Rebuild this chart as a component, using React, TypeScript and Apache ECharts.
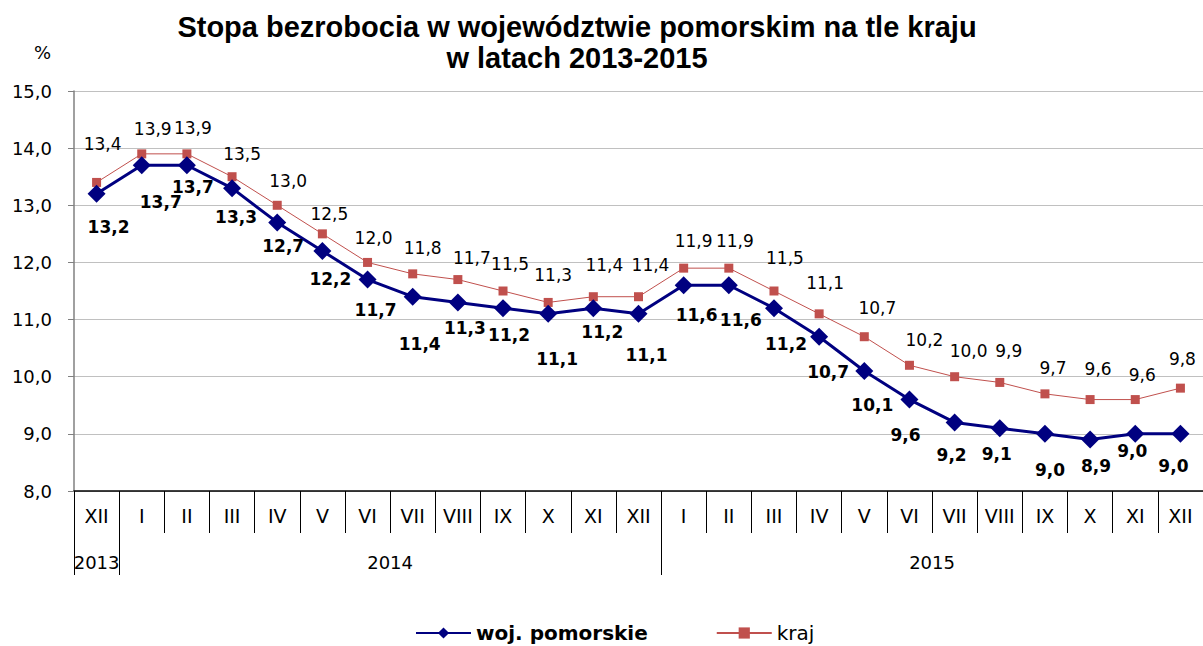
import React, { useEffect, useRef } from "react";
import * as echarts from "echarts";

const months = ["XII", "I", "II", "III", "IV", "V", "VI", "VII", "VIII", "IX", "X", "XI", "XII", "I", "II", "III", "IV", "V", "VI", "VII", "VIII", "IX", "X", "XI", "XII"];
const years = ["2013", "2014", "2015"];
const monthsPerYear = [1, 12, 12];
const pomorskie = [13.2, 13.7, 13.7, 13.3, 12.7, 12.2, 11.7, 11.4, 11.3, 11.2, 11.1, 11.2, 11.1, 11.6, 11.6, 11.2, 10.7, 10.1, 9.6, 9.2, 9.1, 9.0, 8.9, 9.0, 9.0];
const kraj = [13.4, 13.9, 13.9, 13.5, 13.0, 12.5, 12.0, 11.8, 11.7, 11.5, 11.3, 11.4, 11.4, 11.9, 11.9, 11.5, 11.1, 10.7, 10.2, 10.0, 9.9, 9.7, 9.6, 9.6, 9.8];
const yTicks = { min: 8, max: 15, step: 1 };

// label offsets (layout only)
const pomOffsets = [[12, 33], [19, 37], [6, 22], [4, 29], [6, 24], [8, 28], [8, 30], [7, 47], [7, 26], [6, 27], [9, 45], [9, 24], [8, 41], [13, 30], [12, 35], [12, 36], [9, 35], [8, 34], [-4, 35], [-3, 33], [-3, 26], [5, 36], [6, 26], [-3, 17], [-7, 32]];
const krajOffsets = [[6, -38], [11, -25], [6, -26], [10, -23], [11, -24], [7, -20], [6, -24], [10, -26], [14, -22], [7, -27], [5, -27], [11, -32], [12, -32], [10, -27], [6, -27], [11, -33], [6, -31], [13, -29], [15, -25], [14, -26], [9, -31], [8, -26], [8, -31], [7, -25], [2, -29]];

const FONT = "DejaVu Sans";
const fmt = (v: number) => v.toFixed(1).replace(".", ",");

export default function App() {
  const ref = useRef<HTMLDivElement>(null);
  useEffect(() => {
    document.body.style.margin = "0";
    if (!ref.current) return;
    const chart = echarts.init(ref.current, null, { renderer: "svg" });

    const yearCats: string[] = new Array(51).fill("");
    const yearLabelIdx: number[] = [];
    const yearSepIdx: number[] = [0];
    let cum = 0;
    years.forEach((y, i) => {
      const idx = cum * 2 + monthsPerYear[i];
      yearCats[idx] = y;
      yearLabelIdx.push(idx);
      cum += monthsPerYear[i];
      yearSepIdx.push(cum * 2);
    });

    chart.setOption({
      animation: false,
      textStyle: { fontFamily: FONT },
      title: {
        text: "Stopa bezrobocia w województwie pomorskim na tle kraju\nw latach 2013-2015",
        left: 577,
        top: 11,
        padding: 0,
        textAlign: "center",
        textStyle: { fontFamily: "Liberation Sans", fontWeight: "bold", fontSize: 29, lineHeight: 31, color: "#000" },
      },
      legend: {
        left: 415,
        top: 623,
        padding: 0,
        itemWidth: 55,
        itemHeight: 14,
        itemGap: 68,
        textStyle: { fontFamily: FONT, fontSize: 20, color: "#000" },
        data: [
          { name: "woj. pomorskie", textStyle: { fontWeight: "bold" } },
          { name: "kraj" },
        ],
      },
      grid: { left: 74, top: 91, height: 400, right: -8 },
      xAxis: [
        {
          type: "category",
          data: months,
          boundaryGap: true,
          axisLine: { lineStyle: { color: "#000", width: 1.5 } },
          axisTick: { show: true, interval: 0, length: 42, lineStyle: { color: "#000" } },
          axisLabel: { interval: 0, margin: 15, fontSize: 19, color: "#000", fontFamily: FONT },
          splitLine: { show: false },
        },
        {
          type: "category",
          data: yearCats,
          boundaryGap: false,
          position: "bottom",
          axisLine: { show: false },
          axisTick: {
            show: true,
            length: 84,
            interval: (i: number) => yearSepIdx.includes(i),
            lineStyle: { color: "#000" },
          },
          axisLabel: {
            interval: (i: number) => yearLabelIdx.includes(i),
            margin: 62,
            fontSize: 18,
            color: "#000",
            fontFamily: FONT,
          },
          splitLine: { show: false },
        },
      ],
      yAxis: {
        type: "value",
        min: yTicks.min,
        max: yTicks.max,
        interval: yTicks.step,
        name: "%",
        nameLocation: "end",
        nameGap: 30,
        nameTextStyle: { fontSize: 18, color: "#000", align: "right", padding: [0, 23, 0, 0], fontFamily: FONT },
        axisLine: { show: true, lineStyle: { color: "#808080", width: 1.5 } },
        axisTick: { show: true, length: 6, lineStyle: { color: "#808080" } },
        axisLabel: { formatter: (v: number) => fmt(v), fontSize: 18, color: "#000", margin: 22, fontFamily: FONT },
        splitLine: { lineStyle: { color: "#c0c0c0", width: 1 } },
      },
      series: [
        {
          name: "woj. pomorskie",
          type: "line",
          xAxisIndex: 0,
          z: 3,
          color: "#000080",
          symbol: "diamond",
          symbolSize: 18,
          lineStyle: { width: 3, color: "#000080" },
          itemStyle: { color: "#000080" },
          data: pomorskie.map((v, i) => ({
            value: v,
            label: { offset: pomOffsets[i] },
          })),
          label: {
            show: true,
            position: "inside",
            formatter: (p: any) => fmt(p.value),
            fontFamily: FONT,
            fontSize: 17,
            fontWeight: "bold",
            color: "#000",
          },
        },
        {
          name: "kraj",
          type: "line",
          xAxisIndex: 0,
          z: 2,
          color: "#c0504d",
          symbol: "rect",
          symbolSize: 9,
          lineStyle: { width: 1, color: "#c0504d" },
          itemStyle: { color: "#c0504d" },
          data: kraj.map((v, i) => ({
            value: v,
            label: { offset: krajOffsets[i] },
          })),
          label: {
            show: true,
            position: "inside",
            formatter: (p: any) => fmt(p.value),
            fontFamily: FONT,
            fontSize: 17,
            color: "#000",
          },
        },
      ],
    });
    return () => chart.dispose();
  }, []);
  return <div ref={ref} style={{ width: 1203, height: 646 }} />;
}
